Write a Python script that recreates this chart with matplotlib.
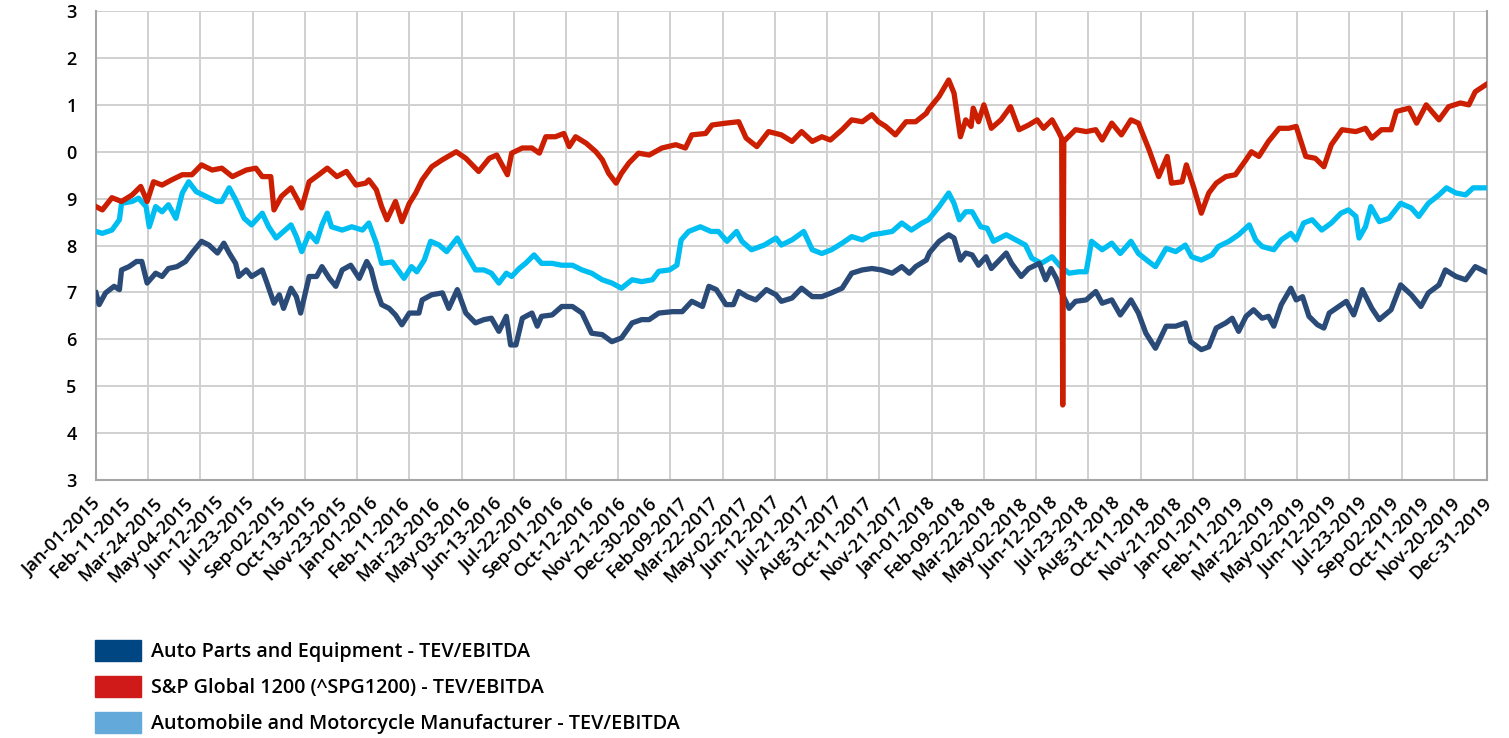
import numpy as np
import matplotlib
matplotlib.use("Agg")
import matplotlib.pyplot as plt
from matplotlib.patches import Patch
from matplotlib.ticker import MultipleLocator
from matplotlib.transforms import ScaledTranslation

plt.rcParams['font.family'] = ['Open Sans', 'DejaVu Sans']

# %% data : trading-day index (0 = Jan-01-2015) and TEV/EBITDA multiple
parts_day = [0, 3, 9, 17, 22, 24, 31, 38, 43, 48, 56, 62, 68, 76, 84, 90, 99, 106, 114, 120,
             125, 131, 134, 141, 146, 156, 160, 167, 172, 176, 183, 188, 192, 200, 207, 212, 219, 225, 231, 239,
             247, 254, 258, 263, 268, 275, 281, 287, 294, 303, 306, 315, 325, 331, 339, 347, 356, 364, 371, 378,
             385, 389, 394, 400, 409, 414, 418, 428, 437, 447, 456, 465, 475, 484, 493, 503, 512, 519, 528, 541,
             550, 559, 569, 575, 582, 591, 598, 603, 611, 619, 629, 638, 643, 653, 662, 672, 681, 690, 700, 709,
             719, 728, 737, 747, 756, 763, 769, 779, 782, 791, 800, 805, 811, 816, 822, 828, 835, 840, 854, 859,
             868, 875, 885, 891, 896, 901, 906, 913, 919, 929, 938, 944, 953, 961, 971, 978, 985, 994, 1004, 1013,
             1022, 1027, 1037, 1044, 1051, 1060, 1066, 1072, 1079, 1086, 1094, 1100, 1105, 1112, 1121, 1126, 1132, 1138, 1146, 1152,
             1157, 1166, 1173, 1180, 1188, 1197, 1204, 1215, 1224, 1234, 1243, 1250, 1260, 1266, 1276, 1285, 1294, 1304]
parts_val = [6.99, 6.74, 6.99, 7.13, 7.06, 7.48, 7.55, 7.66, 7.66, 7.20, 7.41, 7.34, 7.51, 7.55, 7.66, 7.84, 8.09, 8.01, 7.84, 8.05,
             7.84, 7.62, 7.34, 7.48, 7.34, 7.48, 7.23, 6.77, 6.95, 6.66, 7.09, 6.91, 6.56, 7.34, 7.34, 7.55, 7.30, 7.13, 7.48, 7.58,
             7.30, 7.66, 7.50, 7.06, 6.74, 6.66, 6.52, 6.31, 6.56, 6.56, 6.84, 6.95, 6.99, 6.66, 7.06, 6.56, 6.35, 6.42, 6.45, 6.17,
             6.49, 5.88, 5.88, 6.45, 6.56, 6.28, 6.49, 6.52, 6.70, 6.70, 6.56, 6.13, 6.10, 5.95, 6.03, 6.35, 6.42, 6.42, 6.56, 6.59,
             6.59, 6.81, 6.70, 7.13, 7.06, 6.74, 6.74, 7.02, 6.91, 6.84, 7.06, 6.95, 6.81, 6.88, 7.09, 6.91, 6.91, 6.99, 7.09, 7.41,
             7.48, 7.51, 7.48, 7.41, 7.55, 7.41, 7.55, 7.69, 7.85, 8.09, 8.23, 8.16, 7.69, 7.84, 7.80, 7.58, 7.76, 7.51, 7.84, 7.62,
             7.34, 7.51, 7.62, 7.27, 7.51, 7.30, 6.99, 6.66, 6.81, 6.84, 7.02, 6.77, 6.84, 6.52, 6.84, 6.56, 6.13, 5.81, 6.28, 6.28,
             6.35, 5.95, 5.78, 5.84, 6.24, 6.35, 6.45, 6.17, 6.49, 6.63, 6.45, 6.49, 6.28, 6.74, 7.09, 6.84, 6.91, 6.49, 6.31, 6.24,
             6.56, 6.70, 6.81, 6.52, 7.06, 6.66, 6.42, 6.63, 7.16, 6.95, 6.70, 6.99, 7.16, 7.48, 7.34, 7.27, 7.55, 7.44]

spg_day = [0, 6, 15, 24, 34, 42, 48, 54, 62, 71, 81, 90, 99, 109, 118, 128, 141, 150, 156, 164,
           167, 174, 183, 189, 193, 200, 209, 217, 226, 235, 244, 253, 256, 263, 268, 273, 281, 287, 294, 300,
           306, 315, 325, 338, 347, 359, 369, 376, 386, 390, 400, 409, 416, 422, 431, 439, 444, 450, 460, 469,
           475, 481, 488, 493, 500, 509, 519, 531, 544, 553, 559, 572, 578, 591, 603, 610, 620, 631, 643, 653,
           662, 672, 681, 689, 700, 709, 719, 728, 734, 741, 750, 760, 769, 779, 781, 791, 800, 805, 811, 816,
           821, 823, 828, 833, 840, 849, 858, 866, 875, 883, 889, 897, 903, 906, 907, 908, 911, 919, 929, 938,
           944, 953, 962, 971, 978, 988, 997, 1005, 1009, 1019, 1023, 1030, 1037, 1044, 1051, 1060, 1069, 1079, 1084, 1091,
           1100, 1110, 1119, 1126, 1135, 1144, 1152, 1159, 1169, 1182, 1191, 1197, 1206, 1215, 1220, 1232, 1239, 1248, 1260, 1269,
           1280, 1288, 1294, 1304]
spg_val = [8.83, 8.76, 9.02, 8.94, 9.08, 9.26, 8.94, 9.36, 9.29, 9.40, 9.51, 9.51, 9.72, 9.61, 9.65, 9.47, 9.61, 9.65, 9.47, 9.47,
           8.76, 9.05, 9.23, 8.98, 8.80, 9.36, 9.51, 9.65, 9.47, 9.58, 9.29, 9.33, 9.40, 9.19, 8.83, 8.55, 8.94, 8.51, 8.90, 9.12,
           9.40, 9.68, 9.83, 10.00, 9.86, 9.58, 9.86, 9.93, 9.51, 9.97, 10.08, 10.08, 9.97, 10.32, 10.32, 10.39, 10.11, 10.32, 10.18, 10.00,
           9.83, 9.54, 9.33, 9.54, 9.76, 9.97, 9.93, 10.08, 10.15, 10.08, 10.36, 10.39, 10.57, 10.61, 10.64, 10.29, 10.11, 10.43, 10.36, 10.22,
           10.43, 10.22, 10.32, 10.25, 10.47, 10.68, 10.64, 10.79, 10.64, 10.54, 10.36, 10.64, 10.64, 10.82, 10.90, 11.18, 11.53, 11.25, 10.32, 10.68,
           10.54, 10.93, 10.64, 11.00, 10.50, 10.68, 10.96, 10.47, 10.57, 10.68, 10.50, 10.68, 10.43, 10.29, 4.60, 10.22, 10.29, 10.47, 10.43, 10.47,
           10.25, 10.61, 10.36, 10.68, 10.61, 10.04, 9.47, 9.90, 9.33, 9.36, 9.72, 9.23, 8.69, 9.12, 9.33, 9.47, 9.51, 9.83, 10.00, 9.90,
           10.22, 10.50, 10.50, 10.54, 9.90, 9.86, 9.68, 10.15, 10.47, 10.43, 10.50, 10.29, 10.47, 10.47, 10.86, 10.93, 10.61, 11.00, 10.68, 10.96,
           11.04, 11.00, 11.28, 11.43]

auto_day = [0, 6, 15, 22, 24, 34, 40, 47, 50, 56, 62, 68, 75, 81, 87, 94, 103, 113, 118, 125,
            131, 139, 146, 156, 162, 169, 174, 183, 188, 193, 200, 207, 212, 217, 221, 231, 240, 250, 256, 263,
            268, 278, 289, 296, 301, 308, 314, 322, 329, 339, 347, 356, 364, 371, 378, 385, 390, 397, 403, 411,
            418, 428, 437, 447, 456, 465, 475, 484, 493, 503, 512, 522, 528, 538, 545, 549, 556, 567, 577, 584,
            592, 601, 606, 615, 627, 638, 643, 653, 664, 672, 681, 690, 700, 709, 719, 728, 737, 747, 756, 765,
            775, 781, 791, 800, 805, 810, 816, 822, 830, 836, 842, 854, 863, 872, 878, 887, 897, 905, 913, 922,
            929, 934, 944, 953, 961, 971, 978, 988, 994, 1004, 1013, 1022, 1028, 1037, 1047, 1053, 1063, 1072, 1082, 1088,
            1094, 1105, 1112, 1121, 1126, 1133, 1141, 1150, 1159, 1168, 1175, 1182, 1185, 1191, 1196, 1204, 1213, 1224, 1234, 1241,
            1250, 1260, 1267, 1276, 1285, 1292, 1304]
auto_val = [8.30, 8.26, 8.33, 8.55, 8.90, 8.94, 9.01, 8.83, 8.40, 8.83, 8.72, 8.87, 8.58, 9.12, 9.36, 9.15, 9.05, 8.94, 8.94, 9.23,
            8.98, 8.58, 8.44, 8.69, 8.40, 8.16, 8.26, 8.44, 8.19, 7.87, 8.26, 8.08, 8.44, 8.69, 8.40, 8.33, 8.40, 8.33, 8.48, 8.05,
            7.62, 7.65, 7.30, 7.55, 7.44, 7.69, 8.09, 8.01, 7.87, 8.16, 7.83, 7.48, 7.48, 7.41, 7.20, 7.41, 7.34, 7.51, 7.62, 7.80,
            7.62, 7.62, 7.58, 7.58, 7.48, 7.41, 7.27, 7.20, 7.09, 7.27, 7.23, 7.27, 7.45, 7.48, 7.58, 8.12, 8.30, 8.40, 8.30, 8.30,
            8.09, 8.30, 8.09, 7.91, 8.01, 8.16, 8.01, 8.12, 8.30, 7.91, 7.83, 7.91, 8.05, 8.19, 8.12, 8.23, 8.26, 8.30, 8.48, 8.33,
            8.48, 8.55, 8.83, 9.12, 8.90, 8.55, 8.72, 8.72, 8.40, 8.37, 8.09, 8.23, 8.12, 8.01, 7.73, 7.62, 7.76, 7.55, 7.41, 7.44,
            7.44, 8.09, 7.91, 8.05, 7.83, 8.09, 7.83, 7.65, 7.55, 7.94, 7.87, 8.01, 7.76, 7.69, 7.80, 7.98, 8.09, 8.23, 8.44, 8.12,
            7.98, 7.91, 8.12, 8.26, 8.12, 8.48, 8.55, 8.33, 8.48, 8.69, 8.76, 8.62, 8.16, 8.40, 8.83, 8.51, 8.58, 8.90, 8.80, 8.62,
            8.90, 9.08, 9.23, 9.12, 9.08, 9.23, 9.23]

date_labels = ["Jan-01-2015", "Feb-11-2015", "Mar-24-2015", "May-04-2015", "Jun-12-2015", "Jul-23-2015",
               "Sep-02-2015", "Oct-13-2015", "Nov-23-2015", "Jan-01-2016", "Feb-11-2016", "Mar-23-2016",
               "May-03-2016", "Jun-13-2016", "Jul-22-2016", "Sep-01-2016", "Oct-12-2016", "Nov-21-2016",
               "Dec-30-2016", "Feb-09-2017", "Mar-22-2017", "May-02-2017", "Jun-12-2017", "Jul-21-2017",
               "Aug-31-2017", "Oct-11-2017", "Nov-21-2017", "Jan-01-2018", "Feb-09-2018", "Mar-22-2018",
               "May-02-2018", "Jun-12-2018", "Jul-23-2018", "Aug-31-2018", "Oct-11-2018", "Nov-21-2018",
               "Jan-01-2019", "Feb-11-2019", "Mar-22-2019", "May-02-2019", "Jun-12-2019", "Jul-23-2019",
               "Sep-02-2019", "Oct-11-2019", "Nov-20-2019", "Dec-31-2019"]
y_ticks = list(range(3, 14))
y_labels = ["3", "4", "5", "6", "7", "8", "9", "0", "1", "2", "3"]  # leading digit clipped in the source

series_names = ["Auto Parts and Equipment - TEV/EBITDA",
                "S&P Global 1200 (^SPG1200) - TEV/EBITDA",
                "Automobile and Motorcycle Manufacturer - TEV/EBITDA"]

# %% figure
fig = plt.figure(figsize=(15.09, 7.38), dpi=100)
ax = fig.add_axes([0.0636, 0.3496, 0.9218, 0.6354])

ax.plot(auto_day, auto_val, color='#00BDF2', lw=3.8, solid_joinstyle='round', zorder=3)
ax.plot(parts_day, parts_val, color='#2A4A78', lw=3.8, solid_joinstyle='round', zorder=4)
ax.plot(spg_day, spg_val, color='#CC1E00', lw=3.8, solid_joinstyle='round', zorder=5)

ax.set_xlim(0, 1305)
ax.set_ylim(3, 13)
ax.set_yticks(y_ticks)
ax.set_yticklabels(y_labels)
ax.set_xticks([i * 29 for i in range(len(date_labels))])
ax.set_xticklabels(date_labels, rotation=45, ha='right', va='top', rotation_mode='anchor')
ax.xaxis.set_minor_locator(MultipleLocator(49))

ax.grid(True, axis='y', which='major', color='#d0d0d0', lw=1.4)
ax.grid(True, axis='x', which='minor', color='#d0d0d0', lw=1.4)
ax.grid(False, axis='x', which='major')
ax.set_axisbelow(True)

ax.tick_params(axis='both', which='both', length=0)
ax.tick_params(axis='y', labelsize=13, pad=14)
ax.tick_params(axis='x', labelsize=13.2, pad=10)
shift = ScaledTranslation(-0.05, 0, fig.dpi_scale_trans)
for lab in ax.get_xticklabels():
    lab.set_fontweight('semibold')
    lab.set_transform(lab.get_transform() + shift)
for lab in ax.get_yticklabels():
    lab.set_fontweight('semibold')

ax.spines['top'].set_visible(False)
for s in ['left', 'bottom', 'right']:
    ax.spines[s].set_color('#a6a6a6')
    ax.spines[s].set_linewidth(1.5)

# %% legend
handles = [Patch(color='#004682'), Patch(color='#D01A1A'), Patch(color='#63A9D9')]
leg = fig.legend(handles, series_names, loc='upper left', bbox_to_anchor=(0.063, 0.133),
                 frameon=False, fontsize=14.2, handlelength=2.35, handleheight=1.25,
                 handletextpad=0.5, labelspacing=0.72, borderpad=0, borderaxespad=0)
for t in leg.get_texts():
    t.set_fontweight('semibold')

fig.savefig('out.png', dpi=100)
